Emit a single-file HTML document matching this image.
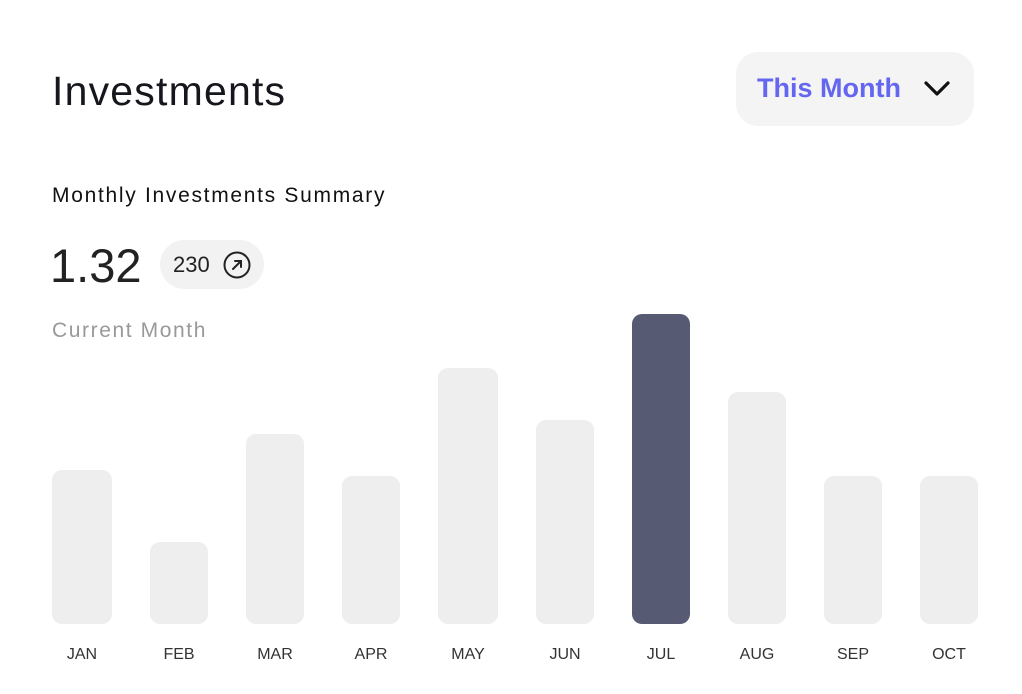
<!DOCTYPE html>
<html><head><meta charset="utf-8"><style>
*{margin:0;padding:0;box-sizing:border-box}
body{width:1022px;height:694px;background:#fff;position:relative;overflow:hidden;font-family:"Liberation Sans",sans-serif;color:#15171c}
.a{position:absolute;white-space:nowrap}
.bar{position:absolute;background:#edeeed;border-radius:10px;bottom:70px}
.lbl{position:absolute;top:646px;font-size:16px;color:#333;text-align:center;width:80px}
</style></head><body>
<div class="a" style="left:52px;top:68px;font-size:41px;letter-spacing:1.2px">Investments</div>
<div class="a" style="left:736px;top:52px;width:238px;height:74px;background:#f4f4f4;border-radius:22px"></div>
<div class="a" style="left:757px;top:73px;font-size:27px;font-weight:bold;color:#6466f0">This Month</div>
<svg class="a" style="left:922px;top:79px" width="30" height="20"><polyline points="4,4 15,15 26,4" fill="none" stroke="#111" stroke-width="3.2" stroke-linecap="round" stroke-linejoin="round"/></svg>
<div class="a" style="left:52px;top:184px;font-size:21px;letter-spacing:1.7px;color:#111">Monthly Investments Summary</div>
<div class="a" style="left:50px;top:238px;font-size:47px;color:#222">1.32</div>
<div class="a" style="left:160px;top:240px;width:104px;height:49px;background:#f2f2f2;border-radius:25px"></div>
<div class="a" style="left:173px;top:252px;font-size:22px;color:#222">230</div>
<svg class="a" style="left:222px;top:250px" width="30" height="30"><circle cx="15" cy="15" r="12.5" fill="none" stroke="#222" stroke-width="2"/><path d="M11 19 L19 11 M13 11 H19 V17" fill="none" stroke="#222" stroke-width="2" stroke-linecap="round"/></svg>
<div class="a" style="left:52px;top:319px;font-size:21px;letter-spacing:1.6px;color:#999">Current Month</div>
<div class="bar" style="left:52px;width:60px;top:470px"></div>
<div class="bar" style="left:150px;width:58px;top:542px"></div>
<div class="bar" style="left:246px;width:58px;top:434px"></div>
<div class="bar" style="left:342px;width:58px;top:476px"></div>
<div class="bar" style="left:438px;width:60px;top:368px"></div>
<div class="bar" style="left:536px;width:58px;top:420px"></div>
<div class="bar" style="left:632px;width:58px;top:314px;background:#565a73"></div>
<div class="bar" style="left:728px;width:58px;top:392px"></div>
<div class="bar" style="left:824px;width:58px;top:476px"></div>
<div class="bar" style="left:920px;width:58px;top:476px"></div>
<div class="lbl" style="left:42px">JAN</div>
<div class="lbl" style="left:139px">FEB</div>
<div class="lbl" style="left:235px">MAR</div>
<div class="lbl" style="left:331px">APR</div>
<div class="lbl" style="left:428px">MAY</div>
<div class="lbl" style="left:525px">JUN</div>
<div class="lbl" style="left:621px">JUL</div>
<div class="lbl" style="left:717px">AUG</div>
<div class="lbl" style="left:813px">SEP</div>
<div class="lbl" style="left:909px">OCT</div>
</body></html>
